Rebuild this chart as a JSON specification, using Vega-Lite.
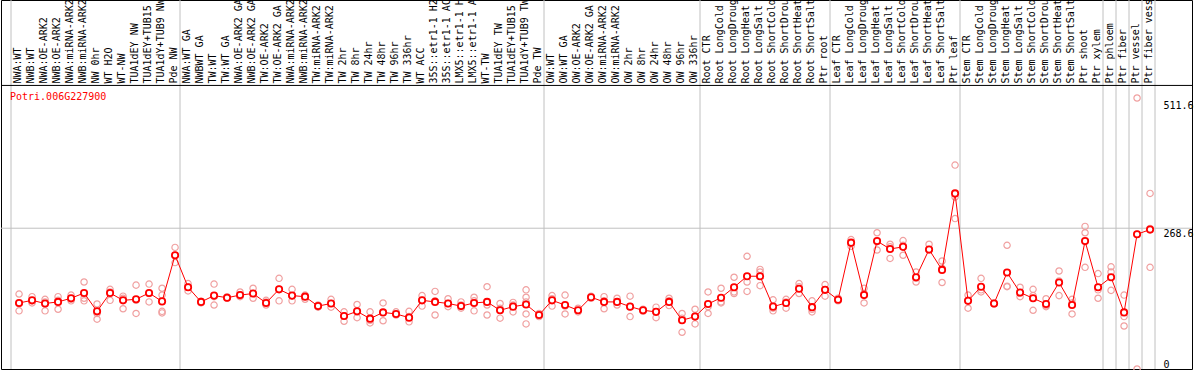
{
  "$schema": "https://vega.github.io/schema/vega-lite/v6.json",
  "width": 1191,
  "height": 369,
  "autosize": "none",
  "padding": {"left": 1, "top": 0, "right": 2, "bottom": 1},
  "background": "white",
  "config": {"view": {"stroke": "black", "strokeWidth": 1}, "font": "DejaVu Sans Mono"},
  "datasets": {
    "means": [
      {"c": "NWA:WT", "m": 126}, {"c": "NWB:WT", "m": 131}, {"c": "NWA:OE-ARK2", "m": 125}, {"c": "NWB:OE-ARK2", "m": 128},
      {"c": "NWA:miRNA-ARK2", "m": 135}, {"c": "NWB:miRNA-ARK2", "m": 145}, {"c": "NW 0hr", "m": 110}, {"c": "WT H2O", "m": 145},
      {"c": "WT-NW", "m": 131}, {"c": "TUA1dEY NW", "m": 133}, {"c": "TUA1dEY+TUB15", "m": 145}, {"c": "TUA1dY+TUB9 NW", "m": 129},
      {"c": "Pde NW", "m": 217}, {"c": "NWA:WT GA", "m": 156}, {"c": "NWBWT GA", "m": 128}, {"c": "TW:WT", "m": 140},
      {"c": "TW:WT GA", "m": 136}, {"c": "NWA:OE-ARK2 GA", "m": 141}, {"c": "NWB:OE-ARK2 GA", "m": 144}, {"c": "TW:OE-ARK2", "m": 126},
      {"c": "TW:OE-ARK2 GA", "m": 152}, {"c": "NWA:miRNA-ARK2 ", "m": 140}, {"c": "NWB:miRNA-ARK2 ", "m": 138}, {"c": "TW:miRNA-ARK2", "m": 120},
      {"c": "TW:miRNA-ARK2 ", "m": 125}, {"c": "TW 2hr", "m": 101}, {"c": "TW 8hr", "m": 110}, {"c": "TW 24hr", "m": 96},
      {"c": "TW 48hr", "m": 108}, {"c": "TW 96hr", "m": 105}, {"c": "TW 336hr", "m": 98}, {"c": "WT ACC", "m": 131},
      {"c": "35S::etr1-1 H2", "m": 128}, {"c": "35S::etr1-1 AC", "m": 125}, {"c": "LMX5::etr1-1 H", "m": 120}, {"c": "LMX5::etr1-1 A", "m": 126},
      {"c": "WT-TW", "m": 128}, {"c": "TUA1dEY TW", "m": 112}, {"c": "TUA1dEY+TUB15 ", "m": 119}, {"c": "TUA1dY+TUB9 TW", "m": 123},
      {"c": "Pde TW", "m": 103}, {"c": "OW:WT", "m": 131}, {"c": "OW:WT GA", "m": 122}, {"c": "OW:OE-ARK2", "m": 112},
      {"c": "OW:OE-ARK2 GA", "m": 137}, {"c": "OW:miRNA-ARK2", "m": 128}, {"c": "OW:miRNA-ARK2 ", "m": 128}, {"c": "OW 2hr", "m": 119},
      {"c": "OW 8hr", "m": 112}, {"c": "OW 24hr", "m": 109}, {"c": "OW 48hr", "m": 128}, {"c": "OW 96hr", "m": 93},
      {"c": "OW 336hr", "m": 100}, {"c": "Root CTR", "m": 124}, {"c": "Root LongCold", "m": 136}, {"c": "Root LongDroug", "m": 156},
      {"c": "Root LongHeat", "m": 177}, {"c": "Root LongSalt", "m": 177}, {"c": "Root ShortCold", "m": 119}, {"c": "Root ShortDrou", "m": 126},
      {"c": "Root ShortHeat", "m": 153}, {"c": "Root ShortSalt", "m": 118}, {"c": "Ptr root", "m": 151}, {"c": "Leaf CTR", "m": 132},
      {"c": "Leaf LongCold", "m": 241}, {"c": "Leaf LongDroug", "m": 141}, {"c": "Leaf LongHeat", "m": 244}, {"c": "Leaf LongSalt", "m": 229},
      {"c": "Leaf ShortCold", "m": 233}, {"c": "Leaf ShortDrou", "m": 175}, {"c": "Leaf ShortHeat", "m": 228}, {"c": "Leaf ShortSalt", "m": 189},
      {"c": "Ptr leaf", "m": 335}, {"c": "Stem CTR", "m": 130}, {"c": "Stem LongCold", "m": 157}, {"c": "Stem LongDroug", "m": 125},
      {"c": "Stem LongHeat", "m": 184}, {"c": "Stem LongSalt", "m": 146}, {"c": "Stem ShortCold", "m": 135}, {"c": "Stem ShortDrou", "m": 124},
      {"c": "Stem ShortHeat", "m": 165}, {"c": "Stem ShortSalt", "m": 122}, {"c": "Ptr shoot", "m": 244}, {"c": "Ptr xylem", "m": 156},
      {"c": "Ptr phloem", "m": 175}, {"c": "Ptr fiber", "m": 108}, {"c": "Ptr vessel", "m": 257}, {"c": "Ptr fiber vess", "m": 266}
    ],
    "reps": [
      {"c": "NWA:WT", "v": 143}, {"c": "NWA:WT", "v": 111}, {"c": "NWA:WT", "v": 125},
      {"c": "NWB:WT", "v": 138}, {"c": "NWB:WT", "v": 130}, {"c": "NWB:WT", "v": 126},
      {"c": "NWA:OE-ARK2", "v": 133}, {"c": "NWA:OE-ARK2", "v": 111}, {"c": "NWA:OE-ARK2", "v": 128},
      {"c": "NWB:OE-ARK2", "v": 138}, {"c": "NWB:OE-ARK2", "v": 114}, {"c": "NWB:OE-ARK2", "v": 131},
      {"c": "NWA:miRNA-ARK2", "v": 141}, {"c": "NWA:miRNA-ARK2", "v": 130}, {"c": "NWA:miRNA-ARK2", "v": 133},
      {"c": "NWB:miRNA-ARK2", "v": 166}, {"c": "NWB:miRNA-ARK2", "v": 130}, {"c": "NWB:miRNA-ARK2", "v": 135},
      {"c": "NW 0hr", "v": 124}, {"c": "NW 0hr", "v": 95}, {"c": "NW 0hr", "v": 106},
      {"c": "WT H2O", "v": 152}, {"c": "WT H2O", "v": 131}, {"c": "WT H2O", "v": 147},
      {"c": "WT-NW", "v": 139}, {"c": "WT-NW", "v": 115}, {"c": "WT-NW", "v": 135},
      {"c": "TUA1dEY NW", "v": 160}, {"c": "TUA1dEY NW", "v": 106}, {"c": "TUA1dEY NW", "v": 131},
      {"c": "TUA1dEY+TUB15", "v": 162}, {"c": "TUA1dEY+TUB15", "v": 128}, {"c": "TUA1dEY+TUB15", "v": 144},
      {"c": "TUA1dY+TUB9 NW", "v": 154}, {"c": "TUA1dY+TUB9 NW", "v": 141}, {"c": "TUA1dY+TUB9 NW", "v": 107}, {"c": "TUA1dY+TUB9 NW", "v": 110},
      {"c": "Pde NW", "v": 232}, {"c": "Pde NW", "v": 203}, {"c": "Pde NW", "v": 217},
      {"c": "NWA:WT GA", "v": 163}, {"c": "NWA:WT GA", "v": 149}, {"c": "NWA:WT GA", "v": 157},
      {"c": "NWBWT GA", "v": 129}, {"c": "NWBWT GA", "v": 126},
      {"c": "TW:WT", "v": 162}, {"c": "TW:WT", "v": 122}, {"c": "TW:WT", "v": 138},
      {"c": "TW:WT GA", "v": 138}, {"c": "TW:WT GA", "v": 135},
      {"c": "NWA:OE-ARK2 GA", "v": 147}, {"c": "NWA:OE-ARK2 GA", "v": 138}, {"c": "NWA:OE-ARK2 GA", "v": 141},
      {"c": "NWB:OE-ARK2 GA", "v": 154}, {"c": "NWB:OE-ARK2 GA", "v": 135}, {"c": "NWB:OE-ARK2 GA", "v": 144},
      {"c": "TW:OE-ARK2", "v": 131}, {"c": "TW:OE-ARK2", "v": 122}, {"c": "TW:OE-ARK2", "v": 128},
      {"c": "TW:OE-ARK2 GA", "v": 173}, {"c": "TW:OE-ARK2 GA", "v": 130}, {"c": "TW:OE-ARK2 GA", "v": 152},
      {"c": "NWA:miRNA-ARK2 ", "v": 152}, {"c": "NWA:miRNA-ARK2 ", "v": 130}, {"c": "NWA:miRNA-ARK2 ", "v": 139},
      {"c": "NWB:miRNA-ARK2 ", "v": 141}, {"c": "NWB:miRNA-ARK2 ", "v": 133}, {"c": "NWB:miRNA-ARK2 ", "v": 138},
      {"c": "TW:miRNA-ARK2", "v": 122}, {"c": "TW:miRNA-ARK2", "v": 118},
      {"c": "TW:miRNA-ARK2 ", "v": 133}, {"c": "TW:miRNA-ARK2 ", "v": 118}, {"c": "TW:miRNA-ARK2 ", "v": 125},
      {"c": "TW 2hr", "v": 109}, {"c": "TW 2hr", "v": 91}, {"c": "TW 2hr", "v": 101},
      {"c": "TW 8hr", "v": 123}, {"c": "TW 8hr", "v": 98}, {"c": "TW 8hr", "v": 110},
      {"c": "TW 24hr", "v": 109}, {"c": "TW 24hr", "v": 88}, {"c": "TW 24hr", "v": 93},
      {"c": "TW 48hr", "v": 126}, {"c": "TW 48hr", "v": 92}, {"c": "TW 48hr", "v": 108},
      {"c": "TW 96hr", "v": 109}, {"c": "TW 96hr", "v": 103},
      {"c": "TW 336hr", "v": 110}, {"c": "TW 336hr", "v": 90}, {"c": "TW 336hr", "v": 100},
      {"c": "WT ACC", "v": 140}, {"c": "WT ACC", "v": 120}, {"c": "WT ACC", "v": 131},
      {"c": "35S::etr1-1 H2", "v": 148}, {"c": "35S::etr1-1 H2", "v": 103}, {"c": "35S::etr1-1 H2", "v": 130},
      {"c": "35S::etr1-1 AC", "v": 134}, {"c": "35S::etr1-1 AC", "v": 119}, {"c": "35S::etr1-1 AC", "v": 125},
      {"c": "LMX5::etr1-1 H", "v": 128}, {"c": "LMX5::etr1-1 H", "v": 116}, {"c": "LMX5::etr1-1 H", "v": 122},
      {"c": "LMX5::etr1-1 A", "v": 137}, {"c": "LMX5::etr1-1 A", "v": 111}, {"c": "LMX5::etr1-1 A", "v": 130},
      {"c": "WT-TW", "v": 157}, {"c": "WT-TW", "v": 103}, {"c": "WT-TW", "v": 122},
      {"c": "TUA1dEY TW", "v": 125}, {"c": "TUA1dEY TW", "v": 97}, {"c": "TUA1dEY TW", "v": 116},
      {"c": "TUA1dEY+TUB15 ", "v": 127}, {"c": "TUA1dEY+TUB15 ", "v": 109}, {"c": "TUA1dEY+TUB15 ", "v": 122},
      {"c": "TUA1dY+TUB9 TW", "v": 151}, {"c": "TUA1dY+TUB9 TW", "v": 137}, {"c": "TUA1dY+TUB9 TW", "v": 105}, {"c": "TUA1dY+TUB9 TW", "v": 86}, {"c": "TUA1dY+TUB9 TW", "v": 128},
      {"c": "Pde TW", "v": 106}, {"c": "Pde TW", "v": 100},
      {"c": "OW:WT", "v": 140}, {"c": "OW:WT", "v": 120}, {"c": "OW:WT", "v": 134},
      {"c": "OW:WT GA", "v": 141}, {"c": "OW:WT GA", "v": 105}, {"c": "OW:WT GA", "v": 120},
      {"c": "OW:OE-ARK2", "v": 116}, {"c": "OW:OE-ARK2", "v": 109},
      {"c": "OW:OE-ARK2 GA", "v": 139}, {"c": "OW:OE-ARK2 GA", "v": 135},
      {"c": "OW:miRNA-ARK2", "v": 138}, {"c": "OW:miRNA-ARK2", "v": 115}, {"c": "OW:miRNA-ARK2", "v": 130},
      {"c": "OW:miRNA-ARK2 ", "v": 135}, {"c": "OW:miRNA-ARK2 ", "v": 122}, {"c": "OW:miRNA-ARK2 ", "v": 128},
      {"c": "OW 2hr", "v": 139}, {"c": "OW 2hr", "v": 100}, {"c": "OW 2hr", "v": 119},
      {"c": "OW 8hr", "v": 114}, {"c": "OW 8hr", "v": 110},
      {"c": "OW 24hr", "v": 118}, {"c": "OW 24hr", "v": 98}, {"c": "OW 24hr", "v": 109},
      {"c": "OW 48hr", "v": 135}, {"c": "OW 48hr", "v": 121}, {"c": "OW 48hr", "v": 130},
      {"c": "OW 96hr", "v": 106}, {"c": "OW 96hr", "v": 70}, {"c": "OW 96hr", "v": 97},
      {"c": "OW 336hr", "v": 114}, {"c": "OW 336hr", "v": 86}, {"c": "OW 336hr", "v": 101},
      {"c": "Root CTR", "v": 147}, {"c": "Root CTR", "v": 106}, {"c": "Root CTR", "v": 119},
      {"c": "Root LongCold", "v": 154}, {"c": "Root LongCold", "v": 128}, {"c": "Root LongCold", "v": 126},
      {"c": "Root LongDroug", "v": 175}, {"c": "Root LongDroug", "v": 144}, {"c": "Root LongDroug", "v": 147},
      {"c": "Root LongHeat", "v": 215}, {"c": "Root LongHeat", "v": 148}, {"c": "Root LongHeat", "v": 166},
      {"c": "Root LongSalt", "v": 190}, {"c": "Root LongSalt", "v": 159}, {"c": "Root LongSalt", "v": 185},
      {"c": "Root ShortCold", "v": 132}, {"c": "Root ShortCold", "v": 111}, {"c": "Root ShortCold", "v": 116},
      {"c": "Root ShortDrou", "v": 133}, {"c": "Root ShortDrou", "v": 116}, {"c": "Root ShortDrou", "v": 128},
      {"c": "Root ShortHeat", "v": 163}, {"c": "Root ShortHeat", "v": 144}, {"c": "Root ShortHeat", "v": 157},
      {"c": "Root ShortSalt", "v": 130}, {"c": "Root ShortSalt", "v": 109}, {"c": "Root ShortSalt", "v": 114},
      {"c": "Ptr root", "v": 161}, {"c": "Ptr root", "v": 139}, {"c": "Ptr root", "v": 151},
      {"c": "Leaf CTR", "v": 135}, {"c": "Leaf CTR", "v": 130},
      {"c": "Leaf LongCold", "v": 247}, {"c": "Leaf LongCold", "v": 234}, {"c": "Leaf LongCold", "v": 241},
      {"c": "Leaf LongDroug", "v": 154}, {"c": "Leaf LongDroug", "v": 126}, {"c": "Leaf LongDroug", "v": 144},
      {"c": "Leaf LongHeat", "v": 260}, {"c": "Leaf LongHeat", "v": 227}, {"c": "Leaf LongHeat", "v": 243},
      {"c": "Leaf LongSalt", "v": 238}, {"c": "Leaf LongSalt", "v": 211}, {"c": "Leaf LongSalt", "v": 233},
      {"c": "Leaf ShortCold", "v": 245}, {"c": "Leaf ShortCold", "v": 217}, {"c": "Leaf ShortCold", "v": 236},
      {"c": "Leaf ShortDrou", "v": 185}, {"c": "Leaf ShortDrou", "v": 166}, {"c": "Leaf ShortDrou", "v": 173},
      {"c": "Leaf ShortHeat", "v": 238}, {"c": "Leaf ShortHeat", "v": 227}, {"c": "Leaf ShortHeat", "v": 228},
      {"c": "Leaf ShortSalt", "v": 206}, {"c": "Leaf ShortSalt", "v": 165}, {"c": "Leaf ShortSalt", "v": 192},
      {"c": "Ptr leaf", "v": 389}, {"c": "Ptr leaf", "v": 287}, {"c": "Ptr leaf", "v": 328},
      {"c": "Stem CTR", "v": 141}, {"c": "Stem CTR", "v": 116}, {"c": "Stem CTR", "v": 131},
      {"c": "Stem LongCold", "v": 173}, {"c": "Stem LongCold", "v": 147}, {"c": "Stem LongCold", "v": 151},
      {"c": "Stem LongDroug", "v": 126}, {"c": "Stem LongDroug", "v": 124},
      {"c": "Stem LongHeat", "v": 236}, {"c": "Stem LongHeat", "v": 157}, {"c": "Stem LongHeat", "v": 158},
      {"c": "Stem LongSalt", "v": 156}, {"c": "Stem LongSalt", "v": 138}, {"c": "Stem LongSalt", "v": 145},
      {"c": "Stem ShortCold", "v": 152}, {"c": "Stem ShortCold", "v": 112}, {"c": "Stem ShortCold", "v": 140},
      {"c": "Stem ShortDrou", "v": 134}, {"c": "Stem ShortDrou", "v": 119}, {"c": "Stem ShortDrou", "v": 121},
      {"c": "Stem ShortHeat", "v": 187}, {"c": "Stem ShortHeat", "v": 140}, {"c": "Stem ShortHeat", "v": 168},
      {"c": "Stem ShortSalt", "v": 133}, {"c": "Stem ShortSalt", "v": 105}, {"c": "Stem ShortSalt", "v": 126},
      {"c": "Ptr shoot", "v": 272}, {"c": "Ptr shoot", "v": 260}, {"c": "Ptr shoot", "v": 194},
      {"c": "Ptr xylem", "v": 182}, {"c": "Ptr xylem", "v": 151}, {"c": "Ptr xylem", "v": 135},
      {"c": "Ptr phloem", "v": 195}, {"c": "Ptr phloem", "v": 185}, {"c": "Ptr phloem", "v": 150},
      {"c": "Ptr fiber", "v": 141}, {"c": "Ptr fiber", "v": 100}, {"c": "Ptr fiber", "v": 82},
      {"c": "Ptr vessel", "v": 517}, {"c": "Ptr vessel", "v": 0}, {"c": "Ptr vessel", "v": 257},
      {"c": "Ptr fiber vess", "v": 335}, {"c": "Ptr fiber vess", "v": 194}, {"c": "Ptr fiber vess", "v": 268}
    ]
  },
  "layer": [
    {
      "data": {"values": [{"c": "NWA:WT"}, {"c": "NWA:WT GA"}, {"c": "OW:WT"}, {"c": "Root CTR"}, {"c": "Leaf CTR"}, {"c": "Stem CTR"}, {"c": "Ptr phloem"}, {"c": "Ptr fiber"}, {"c": "Ptr vessel"}, {"c": "Ptr fiber vess"}]},
      "mark": {"type": "rule", "color": "#c0c0c0", "strokeWidth": 1},
      "encoding": {"x": {"field": "c", "type": "nominal", "bandPosition": 0, "scale": {"type": "band", "paddingInner": 0, "paddingOuter": 0}}}
    },
    {
      "data": {"values": [{"c": "Ptr fiber vess"}]},
      "mark": {"type": "rule", "color": "#c0c0c0", "strokeWidth": 1},
      "encoding": {"x": {"field": "c", "type": "nominal", "bandPosition": 1, "scale": {"type": "band", "paddingInner": 0, "paddingOuter": 0}}}
    },
    {
      "data": {"values": [{"g": 268.6}]},
      "mark": {"type": "rule", "color": "#c0c0c0", "strokeWidth": 1},
      "encoding": {"y": {"field": "g", "type": "quantitative"}}
    },
    {
      "data": {"values": [{"g": 541}]},
      "mark": {"type": "rule", "color": "black", "strokeWidth": 1},
      "encoding": {"y": {"field": "g", "type": "quantitative"}}
    },
    {
      "data": {"name": "reps"},
      "mark": {"type": "point", "shape": "circle", "size": 40, "filled": false, "stroke": "#f0a0a0", "strokeWidth": 1.2, "opacity": 1},
      "encoding": {
        "x": {"field": "c", "type": "nominal", "bandPosition": 0.62, "scale": {"type": "band", "paddingInner": 0, "paddingOuter": 0}},
        "y": {"field": "v", "type": "quantitative"}
      }
    },
    {
      "data": {"name": "means"},
      "mark": {"type": "line", "color": "#ff0000", "strokeWidth": 1},
      "encoding": {
        "x": {"field": "c", "type": "nominal", "bandPosition": 0.62, "scale": {"type": "band", "paddingInner": 0, "paddingOuter": 0}},
        "y": {"field": "m", "type": "quantitative"}
      }
    },
    {
      "data": {"name": "means"},
      "mark": {"type": "point", "shape": "circle", "size": 40, "filled": true, "fill": "white", "stroke": "#ff0000", "strokeWidth": 1.8, "opacity": 1},
      "encoding": {
        "x": {
          "field": "c", "type": "nominal", "bandPosition": 0.62,
          "scale": {
            "type": "band", "paddingInner": 0, "paddingOuter": 0, "range": [10, 1154],
            "domain": ["NWA:WT","NWB:WT","NWA:OE-ARK2","NWB:OE-ARK2","NWA:miRNA-ARK2","NWB:miRNA-ARK2","NW 0hr","WT H2O","WT-NW","TUA1dEY NW","TUA1dEY+TUB15","TUA1dY+TUB9 NW","Pde NW","NWA:WT GA","NWBWT GA","TW:WT","TW:WT GA","NWA:OE-ARK2 GA","NWB:OE-ARK2 GA","TW:OE-ARK2","TW:OE-ARK2 GA","NWA:miRNA-ARK2 ","NWB:miRNA-ARK2 ","TW:miRNA-ARK2","TW:miRNA-ARK2 ","TW 2hr","TW 8hr","TW 24hr","TW 48hr","TW 96hr","TW 336hr","WT ACC","35S::etr1-1 H2","35S::etr1-1 AC","LMX5::etr1-1 H","LMX5::etr1-1 A","WT-TW","TUA1dEY TW","TUA1dEY+TUB15 ","TUA1dY+TUB9 TW","Pde TW","OW:WT","OW:WT GA","OW:OE-ARK2","OW:OE-ARK2 GA","OW:miRNA-ARK2","OW:miRNA-ARK2 ","OW 2hr","OW 8hr","OW 24hr","OW 48hr","OW 96hr","OW 336hr","Root CTR","Root LongCold","Root LongDroug","Root LongHeat","Root LongSalt","Root ShortCold","Root ShortDrou","Root ShortHeat","Root ShortSalt","Ptr root","Leaf CTR","Leaf LongCold","Leaf LongDroug","Leaf LongHeat","Leaf LongSalt","Leaf ShortCold","Leaf ShortDrou","Leaf ShortHeat","Leaf ShortSalt","Ptr leaf","Stem CTR","Stem LongCold","Stem LongDroug","Stem LongHeat","Stem LongSalt","Stem ShortCold","Stem ShortDrou","Stem ShortHeat","Stem ShortSalt","Ptr shoot","Ptr xylem","Ptr phloem","Ptr fiber","Ptr vessel","Ptr fiber vess"]
          },
          "axis": {
            "orient": "top", "offset": -84, "title": null, "labelAngle": 270, "labelAlign": "left", "labelBaseline": "middle",
            "labelPadding": 1, "ticks": false, "domain": false, "grid": false, "labelOverlap": false, "labelBound": false,
            "labelFont": "DejaVu Sans Mono", "labelFontSize": 10, "labelColor": "black", "labelLimit": 300, "bandPosition": 0.55
          }
        },
        "y": {
          "field": "m", "type": "quantitative",
          "scale": {"domain": [0, 704], "nice": false, "zero": true},
          "axis": {
            "orient": "right", "title": null, "values": [0, 268.6, 511.6], "labelExpr": "'' + datum.value",
            "grid": false, "domain": false, "ticks": false, "tickSize": 0, "labelAlign": "left", "labelPadding": -29,
            "labelBaseline": {"condition": {"test": "datum.value == 0", "value": "bottom"}, "value": "top"},
            "labelFont": "DejaVu Sans Mono", "labelFontSize": 10, "labelColor": "black", "labelFlush": false, "labelOverlap": false, "labelBound": false
          }
        }
      }
    },
    {
      "data": {"values": [{"t": "Potri.006G227900", "c": "NWA:WT", "yv": 519}]},
      "mark": {"type": "text", "align": "left", "baseline": "middle", "color": "#ff0000", "font": "DejaVu Sans Mono", "fontSize": 10, "dx": -1},
      "encoding": {
        "x": {"field": "c", "type": "nominal", "bandPosition": 0, "scale": {"type": "band", "paddingInner": 0, "paddingOuter": 0}},
        "y": {"field": "yv", "type": "quantitative"},
        "text": {"field": "t"}
      }
    }
  ]
}
